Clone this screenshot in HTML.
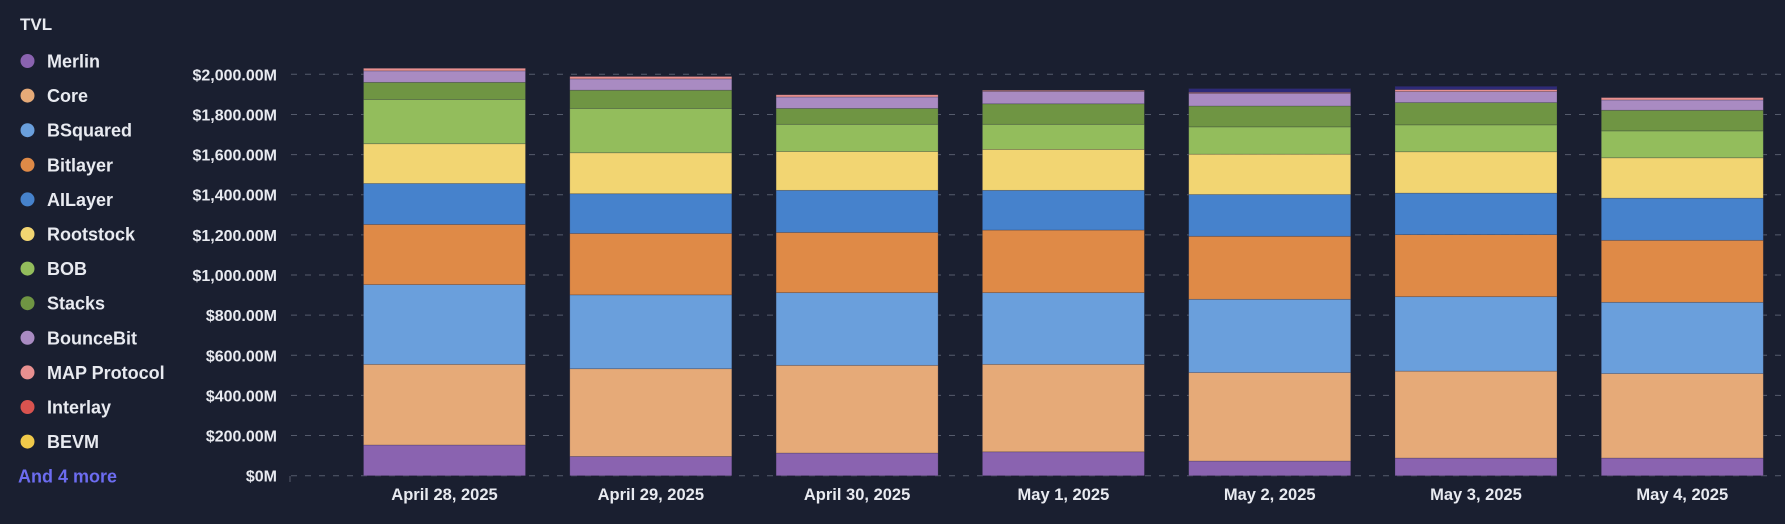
<!DOCTYPE html>
<html><head><meta charset="utf-8"><style>
html,body{margin:0;padding:0;background:#1a1f30;}
body{width:1785px;height:519px;overflow:hidden;font-family:"Liberation Sans",sans-serif;}
svg text{font-family:"Liberation Sans",sans-serif;font-weight:bold;}
</style></head><body>
<svg width="1785" height="519" xmlns="http://www.w3.org/2000/svg">
<rect width="1785" height="519" fill="#1a1f30"/>
<g id="legend"></g>
<g id="grid"></g>
<g id="yaxis"></g>
<g id="bars"></g>
<g id="xaxis"></g>
</svg>
<script>
const categories = ["April 28, 2025","April 29, 2025","April 30, 2025","May 1, 2025","May 2, 2025","May 3, 2025","May 4, 2025"];
const seriesNames = ["Merlin","Core","BSquared","Bitlayer","AILayer","Rootstock","BOB","Stacks","BounceBit","MAP Protocol","Interlay","BEVM","Other"];
const seriesColors = ["#8a63b0","#e6aa78","#6a9fdc","#df8a47","#4682cc","#f2d572","#93bd5c","#6f9543","#a98bc2","#e89090","#d9534f","#f0c94a","#2e2a78"];
const merlin =    [153, 96,113,119, 73, 88, 88];
const core =      [402,437,437,436,441,433,421];
const bsquared =  [397,368,362,357,365,371,355];
const bitlayer =  [300,306,300,312,314,309,309];
const ailayer =   [204,198,210,198,208,207,210];
const rootstock = [198,204,193,204,201,206,201];
const bob =       [221,221,136,125,136,134,134];
const stacks =    [ 85, 91, 79,102,104,111,103];
const bouncebit = [ 57, 56, 57, 62, 63, 55, 51];
const mapProtocol=[ 13, 12, 11,  5,  5, 10, 12];
const interlay =  [  0,  0,  0,  0,  0,  0,  0];
const bevm =      [  0,  0,  0,  0,  0,  0,  0];
const other =     [  0,  0,  0,  0, 19, 16,  0];
const series = [merlin,core,bsquared,bitlayer,ailayer,rootstock,bob,stacks,bouncebit,mapProtocol,interlay,bevm,other];
const legendCount = 12;
const yTicks = [0,200,400,600,800,1000,1200,1400,1600,1800,2000];
const yTickLabels = ["$0M","$200.00M","$400.00M","$600.00M","$800.00M","$1,000.00M","$1,200.00M","$1,400.00M","$1,600.00M","$1,800.00M","$2,000.00M"];

const NS="http://www.w3.org/2000/svg";
function mk(tag,attrs,parent){const e=document.createElementNS(NS,tag);for(const k in attrs)e.setAttribute(k,attrs[k]);parent.appendChild(e);return e;}
const y0=475.7, yMax=74.3;
function yScale(v){return y0-(v/2000)*(y0-yMax);}
function xScale(i){return 363.5+i*206.3;}
const barW=162;

const lg=document.getElementById('legend');
const t=mk('text',{x:20,y:30,fill:'#e8eaf0','font-size':17},lg);t.textContent='TVL';


seriesNames.slice(0,legendCount).forEach((n,i)=>{
  const g=mk('g',{},lg);
  
  
  const cy=61+i*34.6;
  mk('circle',{cx:27.5,cy:cy,r:7,fill:seriesColors[i]},g);
  const tx=mk('text',{x:47,y:cy+6.5,fill:'#e8eaf0','font-size':18},g);tx.textContent=n;
});
const more=mk('text',{x:18,y:61+12*34.6+6.5,fill:'#6c6cf0','font-size':18},lg);more.textContent='And 4 more';



const gg=document.getElementById('grid'), ya=document.getElementById('yaxis');
yTicks.forEach((v,i)=>{
  const y=yScale(v);
  const l=mk('line',{x1:291,x2:1785,y1:y,y2:y,stroke:'#555b6c','stroke-width':1,'stroke-dasharray':'6,8'},gg);
  
  
  const tx=mk('text',{x:277,y:y+6,fill:'#e8eaf0','font-size':16,'text-anchor':'end'},ya);
  tx.textContent=yTickLabels[i];
  
  
});
mk('line',{x1:290,x2:290,y1:476,y2:482,stroke:'#555b6c'},gg);

const bg=document.getElementById('bars'), xa=document.getElementById('xaxis');
categories.forEach((c,i)=>{
  let cum=0;
  const g=mk('g',{},bg);
  
  
  series.forEach((s,k)=>{
    const v=s[i]; if(!v) return;
    const yt=yScale(cum+v), yb=yScale(cum);
    const r=mk('rect',{x:xScale(i),y:yt,width:barW,height:yb-yt,fill:seriesColors[k],stroke:'rgba(40,40,60,0.35)','stroke-width':0.7},g);
    
    
    cum+=v;
  });
  const tx=mk('text',{x:xScale(i)+barW/2,y:500,fill:'#e8eaf0','font-size':16.5,'text-anchor':'middle'},xa);
  tx.textContent=c;
  
  
});
</script>
</body></html>
